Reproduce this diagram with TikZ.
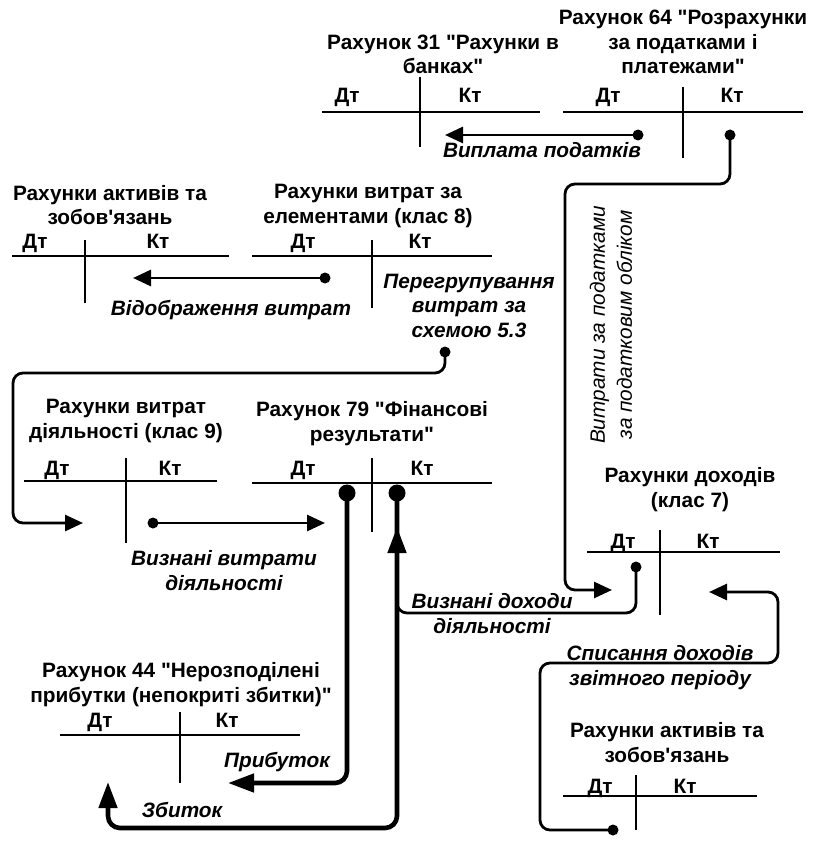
\documentclass[tikz,border=0pt]{standalone}
\usepackage{fontspec}
\setmainfont{Liberation Sans}[Ligatures=TeXOff]
\usetikzlibrary{arrows.meta}
\begin{document}
\begin{tikzpicture}[x=1pt,y=-1pt,
  txt/.style={inner sep=0pt, align=center, font=\fontsize{20.8}{24.5}\selectfont\bfseries, anchor=base},
  lbl/.style={txt, font=\fontsize{20.8}{24.5}\selectfont\bfseries\itshape},
  rlbl/.style={inner sep=0pt, align=center, font=\fontsize{20.8}{27}\selectfont\itshape},
  tl/.style={line width=1.6pt},
  conn/.style={line width=2.8pt, rounded corners=10pt},
  fat/.style={line width=4.6pt, rounded corners=12pt},
  tip/.style={-{Triangle[length=18pt,width=16pt]}},
  fattip/.style={-{Triangle[length=26pt,width=18pt]}},
]
\useasboundingbox (0,0) rectangle (816,842);

% ---- Account 31
\node[txt] (t31) at (443,74) {Рахунок 31 "Рахунки в\\банках"};
\node[txt] (d31) at (347,103) {Дт};
\node[txt] (k31) at (470,103) {Кт};
\draw[tl] (322,112) -- (540,112) (420,77) -- (420,147);

% ---- Account 64
\node[txt] (t64) at (683,74) {Рахунок 64 "Розрахунки\\за податками і\\платежами"};
\node[txt] (d64) at (608,103) {Дт};
\node[txt] (k64) at (732,103) {Кт};
\draw[tl] (563,112) -- (803,112) (683,87) -- (683,158);

% ---- Assets (top left)
\node[txt] (ta1) at (110,225) {Рахунки активів та\\зобов\textquotesingle язань};
\node[txt] (da1) at (35,248) {Дт};
\node[txt] (ka1) at (158,248) {Кт};
\draw[tl] (12,256) -- (229,256) (85,240) -- (85,303);

% ---- Class 8
\node[txt] (t8) at (368,223) {Рахунки витрат за\\елементами (клас 8)};
\node[txt] (d8) at (303,248) {Дт};
\node[txt] (k8) at (420,248) {Кт};
\draw[tl] (252,256) -- (492,256) (372,240) -- (372,308);

% ---- Class 9
\node[txt] (t9) at (126,438) {Рахунки витрат\\діяльності (клас 9)};
\node[txt] (d9) at (57,475) {Дт};
\node[txt] (k9) at (170,475) {Кт};
\draw[tl] (24,481) -- (217,481) (126,458) -- (126,543);

% ---- Account 79
\node[txt] (t79) at (372,441) {Рахунок 79 "Фінансові\\результати"};
\node[txt] (d79) at (303,475) {Дт};
\node[txt] (k79) at (422,475) {Кт};
\draw[tl] (252,483) -- (492,483) (372,458) -- (372,532);

% ---- Class 7
\node[txt] (t7) at (690,507) {Рахунки доходів\\(клас 7)};
\node[txt] (d7) at (623,548) {Дт};
\node[txt] (k7) at (708,548) {Кт};
\draw[tl] (587,552) -- (780,552) (660,530) -- (660,615);

% ---- Account 44
\node[txt] (t44) at (181,702) {Рахунок 44 "Нерозподілені\\прибутки (непокриті збитки)"};
\node[txt] (d44) at (100,727) {Дт};
\node[txt] (k44) at (227,727) {Кт};
\draw[tl] (60,735) -- (300,735) (180,712) -- (180,783);

% ---- Assets (bottom right)
\node[txt] (ta2) at (667,762) {Рахунки активів та\\зобов\textquotesingle язань};
\node[txt] (da2) at (600,793) {Дт};
\node[txt] (ka2) at (685,793) {Кт};
\draw[tl] (563,796) -- (757,796) (636,775) -- (636,830);

% ---- labels
\node[lbl] (l1) at (542,158) {Виплата податків};
\node[lbl] (l2) at (231,315) {Відображення витрат};
\node[lbl] (l3) at (469,337) {Перегрупування\\витрат за\\схемою 5.3};
\node[lbl] (l4) at (224,590) {Визнані витрати\\діяльності};
\node[lbl] (l5) at (492,633) {Визнані доходи\\діяльності};
\node[lbl] (l6) at (660,685) {Списання доходів\\звітного періоду};
\node[lbl] (l7) at (277,767) {Прибуток};
\node[lbl] (l8) at (182,817) {Збиток};
\node[rlbl, rotate=90] (l9) at (611,325) {Витрати за податками\\за податковим обліком};

% ---- connector points
\coordinate (c1s) at (638,135); \coordinate (c1e) at (445,135);
\coordinate (c2s) at (730,135); \coordinate (c2e) at (612,590);
\coordinate (c3s) at (325,278); \coordinate (c3e) at (133,278);
\coordinate (c4s) at (445,352); \coordinate (c4e) at (83,523);
\coordinate (c5s) at (153,523); \coordinate (c5e) at (325,523);
\coordinate (c6s) at (636,567); \coordinate (c6e) at (397,527);
\coordinate (c7s) at (347,493); \coordinate (c7e) at (228,783);
\coordinate (c8s) at (397,493); \coordinate (c8e) at (108,782);
\coordinate (c9s) at (613,830); \coordinate (c9e) at (709,592);

% ---- connectors
\draw[conn,tip] (c1s) -- (c1e);
\draw[conn,tip] (c2s) -- (730,184) -- (565,184) -- (565,590) -- (c2e);
\draw[conn,tip] (c3s) -- (c3e);
\draw[conn,tip] (c4s) -- (445,373) -- (13,373) -- (13,523) -- (c4e);
\draw[conn,tip] (c5s) -- (c5e);
\draw[conn] (c6s) -- (636,613) -- (397,613) -- (397,590);
\draw[fat,fattip] (c7s) -- (347,783) -- (c7e);
\draw[fat,fattip] (c8s) -- (397,828) -- (108,828) -- (c8e);
\draw[fat,fattip] (397,570) -- (c6e);
\draw[conn,tip] (c9s) -- (540,830) -- (540,663) -- (778,663) -- (778,592) -- (c9e);

% ---- dots
\foreach \p in {c1s,c2s,c3s,c4s,c5s,c6s,c9s} \fill (\p) circle (5.5pt);
\foreach \p in {c7s,c8s} \fill (\p) circle (8.5pt);
\end{tikzpicture}
\end{document}
